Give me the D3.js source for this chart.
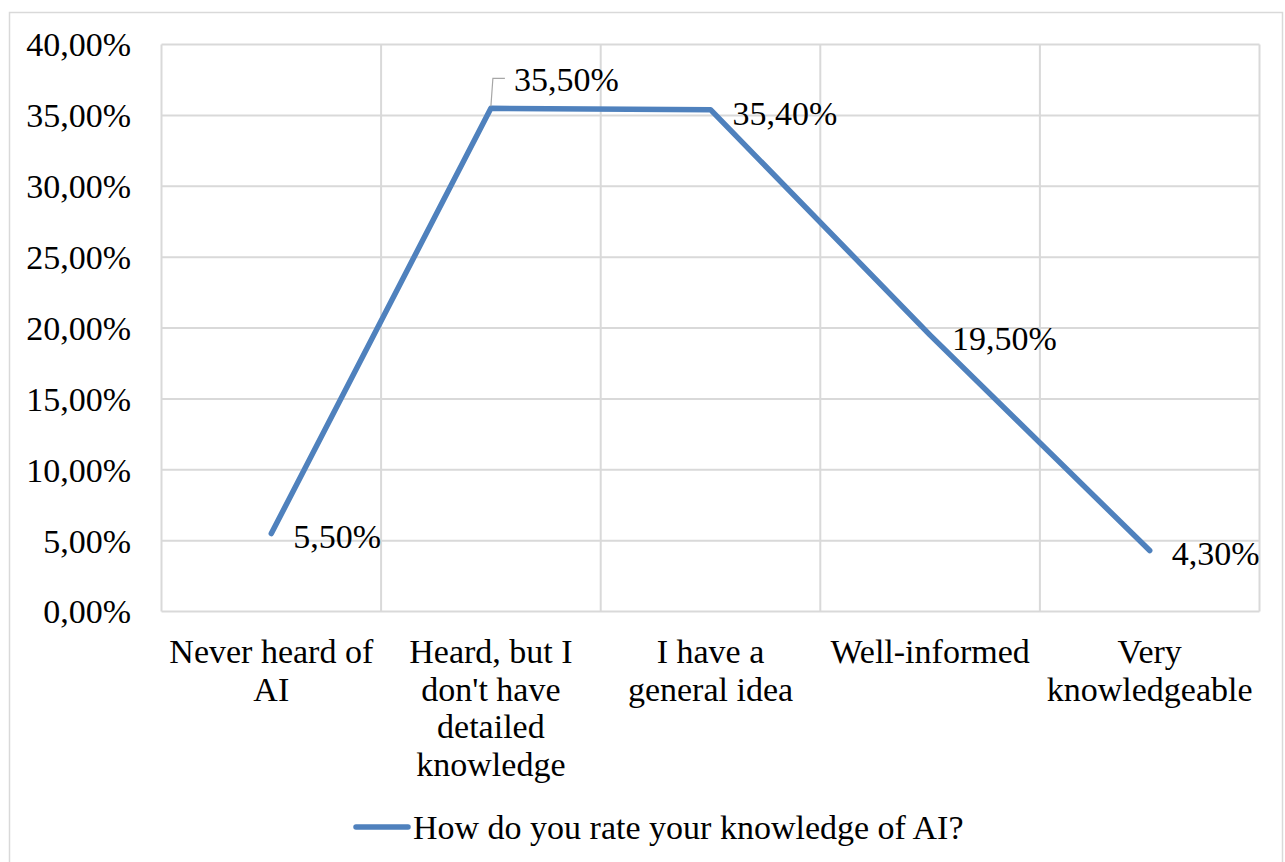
<!DOCTYPE html>
<html>
<head>
<meta charset="utf-8">
<script src="https://cdn.jsdelivr.net/npm/d3@7"></script>
<style>
  html, body { margin: 0; padding: 0; background: #fff; }
  svg { display: block; }
  text { font-family: "Liberation Serif", "DejaVu Serif", serif; fill: #000; }
</style>
</head>
<body>
<svg id="chart" width="1285" height="862"></svg>
<script>
const categories = [
  ["Never heard of", "AI"],
  ["Heard, but I", "don't have", "detailed", "knowledge"],
  ["I have a", "general idea"],
  ["Well-informed"],
  ["Very", "knowledgeable"]
];
const values = [5.5, 35.5, 35.4, 19.5, 4.3];
const valueLabels = ["5,50%", "35,50%", "35,40%", "19,50%", "4,30%"];
const yTicks = [0, 5, 10, 15, 20, 25, 30, 35, 40];
const yTickLabels = ["0,00%", "5,00%", "10,00%", "15,00%", "20,00%", "25,00%", "30,00%", "35,00%", "40,00%"];
const seriesName = "How do you rate your knowledge of AI?";

(function () {
const svg = d3.select("#chart");
const pLeft = 161.5, pRight = 1259.5, pTop = 44.5, pBottom = 611.5;
const fs = 34;
const lineColor = "#4f81bd";
const gridColor = "#d9d9d9";

// outer border
svg.append("rect").attr("x", 9.5).attr("y", 12.5).attr("width", 1273).attr("height", 870)
  .attr("fill", "none").attr("stroke", gridColor).attr("stroke-width", 1.5);

const x = d3.scaleBand().domain(d3.range(categories.length)).range([pLeft, pRight]).padding(0);
const y = d3.scaleLinear().domain([0, 40]).range([pBottom, pTop]);

// horizontal grid
svg.append("g").selectAll("line").data(yTicks).join("line")
  .attr("x1", pLeft).attr("x2", pRight)
  .attr("y1", d => y(d)).attr("y2", d => y(d))
  .attr("stroke", gridColor).attr("stroke-width", 2);

// vertical grid (category boundaries)
const bounds = d3.range(categories.length + 1).map(i => i < categories.length ? x(i) : x(categories.length - 1) + x.bandwidth());
svg.append("g").selectAll("line").data(bounds).join("line")
  .attr("x1", d => d).attr("x2", d => d)
  .attr("y1", pTop).attr("y2", pBottom)
  .attr("stroke", gridColor).attr("stroke-width", 2);

// y tick labels
svg.append("g").selectAll("text").data(yTicks).join("text")
  .attr("x", 131).attr("y", d => y(d))
  .attr("dy", "0.35em")
  .attr("text-anchor", "end")
  .attr("font-size", fs)
  .text((d, i) => yTickLabels[i]);

// category labels
const cx = i => x(i) + x.bandwidth() / 2;
const catG = svg.append("g");
categories.forEach((lines, i) => {
  const t = catG.append("text").attr("text-anchor", "middle").attr("font-size", fs);
  lines.forEach((ln, j) => {
    t.append("tspan").attr("x", cx(i)).attr("y", 663 + j * 37.5).text(ln);
  });
});

// line
const line = d3.line().x((d, i) => cx(i)).y(d => y(d));
svg.append("path").datum(values)
  .attr("d", line)
  .attr("fill", "none")
  .attr("stroke", lineColor)
  .attr("stroke-width", 5.5)
  .attr("stroke-linejoin", "round")
  .attr("stroke-linecap", "round");

// data labels
values.forEach((v, i) => {
  const px = cx(i), py = y(v);
  if (i === 1) {
    svg.append("path")
      .attr("d", `M${px},${py - 2}L${px + 2},${py - 30}L${px + 14},${py - 30}`)
      .attr("fill", "none").attr("stroke", "#a6a6a6").attr("stroke-width", 1.2);
    svg.append("text").attr("x", px + 23).attr("y", py - 29).attr("dy", "0.35em")
      .attr("font-size", fs).text(valueLabels[i]);
  } else {
    svg.append("text").attr("x", px + 22).attr("y", py + 3).attr("dy", "0.35em")
      .attr("font-size", fs).text(valueLabels[i]);
  }
});

// legend
svg.append("line").attr("x1", 356).attr("x2", 408).attr("y1", 827).attr("y2", 827)
  .attr("stroke", lineColor).attr("stroke-width", 5.5).attr("stroke-linecap", "round");
svg.append("text").attr("x", 413).attr("y", 827).attr("dy", "0.35em")
  .attr("font-size", fs).text(seriesName);
})();
</script>
</body>
</html>
